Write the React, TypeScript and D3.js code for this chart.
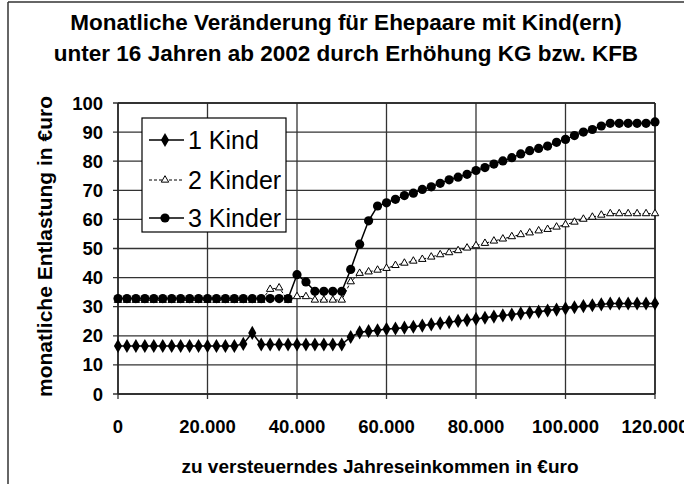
import React from 'react';
import * as d3 from 'd3';

const incomes = [
  0, 2000, 4000, 6000, 8000, 10000, 12000, 14000, 16000, 18000,
  20000, 22000, 24000, 26000, 28000, 30000, 32000, 34000, 36000, 38000,
  40000, 42000, 44000, 46000, 48000, 50000, 52000, 54000, 56000, 58000,
  60000, 62000, 64000, 66000, 68000, 70000, 72000, 74000, 76000, 78000,
  80000, 82000, 84000, 86000, 88000, 90000, 92000, 94000, 96000, 98000,
  100000, 102000, 104000, 106000, 108000, 110000, 112000, 114000, 116000, 118000,
  120000,
];

const kind1 = [
  16.5, 16.5, 16.5, 16.5, 16.5, 16.5, 16.5, 16.5, 16.5, 16.5,
  16.5, 16.5, 16.5, 16.5, 17.2, 21.0, 17.0, 17.0, 17.0, 17.0,
  17.0, 17.0, 17.0, 17.0, 17.0, 17.0, 19.6, 21.2, 21.6, 21.9,
  22.3, 22.5, 22.8, 23.1, 23.5, 23.9, 24.3, 24.7, 25.1, 25.4,
  25.8, 26.2, 26.6, 27.0, 27.3, 27.7, 28.0, 28.3, 28.7, 29.0,
  29.4, 29.8, 30.2, 30.5, 30.8, 31.1, 31.1, 31.1, 31.1, 31.1,
  31.1,
];

const kinder2 = [
  32.2, 32.2, 32.2, 32.2, 32.2, 32.2, 32.2, 32.2, 32.2, 32.2,
  32.2, 32.2, 32.2, 32.2, 32.2, 32.2, 32.2, 36.0, 36.5, 32.2,
  33.5, 33.5, 32.3, 32.3, 32.3, 32.3, 38.6, 41.5, 42.0, 42.6,
  43.2, 44.2, 45.0, 45.7, 46.3, 47.1, 47.9, 48.6, 49.3, 50.2,
  51.0, 51.8, 52.6, 53.3, 54.1, 54.8, 55.4, 56.1, 56.6, 57.4,
  58.2, 59.1, 60.1, 60.8, 61.5, 62.0, 62.0, 62.0, 62.0, 62.0,
  62.0,
];

const kinder3 = [
  32.8, 32.8, 32.8, 32.8, 32.8, 32.8, 32.8, 32.8, 32.8, 32.8,
  32.8, 32.8, 32.8, 32.8, 32.8, 32.8, 32.8, 32.8, 32.8, 32.8,
  41.0, 38.5, 35.3, 35.3, 35.3, 35.3, 42.8, 51.5, 59.5, 64.6,
  65.7, 66.9, 68.2, 69.0, 70.3, 71.2, 72.4, 73.6, 74.5, 75.5,
  76.8, 77.8, 79.0, 80.1, 81.2, 82.5, 83.6, 84.4, 85.2, 86.5,
  87.5, 88.8, 90.0, 90.9, 92.1, 93.0, 93.0, 93.0, 93.0, 93.0,
  93.5,
];

const seriesNames = ['1 Kind', '2 Kinder', '3 Kinder'];
const yTicks = [0, 10, 20, 30, 40, 50, 60, 70, 80, 90, 100];
const xTicks = [0, 20000, 40000, 60000, 80000, 100000, 120000];
const titleLines = [
  'Monatliche Veränderung für Ehepaare mit Kind(ern)',
  'unter 16 Jahren ab 2002 durch Erhöhung KG bzw. KFB',
];

const font = 'Arial, "Liberation Sans", sans-serif';

export default function App() {
  const W = 684;
  const H = 484;
  const x = d3.scaleLinear().domain([0, 120000]).range([118, 655]);
  const y = d3.scaleLinear().domain([0, 100]).range([394, 103]);
  const fmt = (v: number) => d3.format(',')(v).replace(/,/g, '.');

  const line = d3
    .line<number>()
    .x((_, i) => x(incomes[i]))
    .y((d) => y(d));

  const diamond = d3.symbol().type(d3.symbolDiamond).size(58)()!;
  const triangle = d3.symbol().type(d3.symbolTriangle).size(24)()!;

  const series = [
    { name: seriesNames[0], values: kind1, kind: 'diamond', lw: 1.5, dash: undefined },
    { name: seriesNames[1], values: kinder2, kind: 'triangle', lw: 1, dash: '3,2' },
    { name: seriesNames[2], values: kinder3, kind: 'circle', lw: 1.5, dash: undefined },
  ];

  const marker = (kind: string, cx: number, cy: number, key: any) => {
    if (kind === 'circle') return <circle key={key} cx={cx} cy={cy} r={4.6} fill="#000" />;
    if (kind === 'diamond')
      return <path key={key} d={diamond} transform={`translate(${cx},${cy})`} fill="#000" />;
    return (
      <path key={key} d={triangle} transform={`translate(${cx},${cy})`} fill="#fff" stroke="#000" strokeWidth={1} />
    );
  };

  const legendRows = [140, 180, 218];

  return (
    <svg width={W} height={H} style={{ position: 'absolute', left: 0, top: 0, background: '#fff' }} fontFamily={font}>
      <rect x={0} y={0} width={W} height={H} fill="#fff" />
      {/* outer frame */}
      <line x1={8} y1={2} x2={W} y2={2} stroke="#333" strokeWidth={1.5} />
      <line x1={8} y1={2} x2={8} y2={H} stroke="#333" strokeWidth={1.5} />

      {titleLines.map((t, i) => (
        <text key={i} x={346} y={30 + i * 31} textAnchor="middle" fontSize={22.5} fontWeight="bold">
          {t}
        </text>
      ))}

      {/* grid */}
      {yTicks.map((t) => (
        <line key={'gy' + t} x1={x(0) - 5} x2={x(120000)} y1={y(t)} y2={y(t)} stroke="#333" strokeWidth={1.3} />
      ))}
      {xTicks.map((t) => (
        <line key={'gx' + t} x1={x(t)} x2={x(t)} y1={y(100)} y2={y(0) + 5} stroke="#333" strokeWidth={1.3} />
      ))}
      <line x1={x(0)} x2={x(120000)} y1={y(100)} y2={y(100)} stroke="#222" strokeWidth={1.5} />
      <line x1={x(0)} x2={x(120000)} y1={y(0)} y2={y(0)} stroke="#222" strokeWidth={1.5} />
      <line x1={x(0)} x2={x(0)} y1={y(100)} y2={y(0)} stroke="#222" strokeWidth={1.5} />
      <line x1={x(120000)} x2={x(120000)} y1={y(100)} y2={y(0)} stroke="#222" strokeWidth={1.5} />

      {/* tick labels */}
      {yTicks.map((t) => (
        <text key={'ty' + t} x={103} y={y(t) + 6.5} textAnchor="end" fontSize={18.5} fontWeight="bold">
          {t}
        </text>
      ))}
      {xTicks.map((t) => (
        <text key={'tx' + t} x={x(t)} y={433} textAnchor="middle" fontSize={18.5} fontWeight="bold">
          {fmt(t)}
        </text>
      ))}

      <text x={380} y={473} textAnchor="middle" fontSize={19} fontWeight="bold">
        zu versteuerndes Jahreseinkommen in €uro
      </text>
      <text
        transform={`translate(52,246.5) rotate(-90)`}
        textAnchor="middle"
        fontSize={21}
        fontWeight="bold"
      >
        monatliche Entlastung in €uro
      </text>

      {/* series */}
      {series.map((s) => (
        <g key={s.name}>
          <path d={line(s.values)!} fill="none" stroke="#000" strokeWidth={s.lw} strokeDasharray={s.dash} />
          {s.values.map((v, i) => marker(s.kind, x(incomes[i]), y(v), i))}
        </g>
      ))}

      {/* legend */}
      <rect x={142} y={118} width={144} height={114} fill="#fff" stroke="#000" strokeWidth={1.2} />
      {series.map((s, i) => (
        <g key={'lg' + s.name}>
          <line x1={149} x2={184} y1={legendRows[i]} y2={legendRows[i]} stroke="#000" strokeWidth={s.lw} strokeDasharray={s.dash} />
          {marker(s.kind, 165, legendRows[i], 'm' + i)}
          <text x={188} y={legendRows[i] + 9} fontSize={25}>
            {s.name}
          </text>
        </g>
      ))}
    </svg>
  );
}
